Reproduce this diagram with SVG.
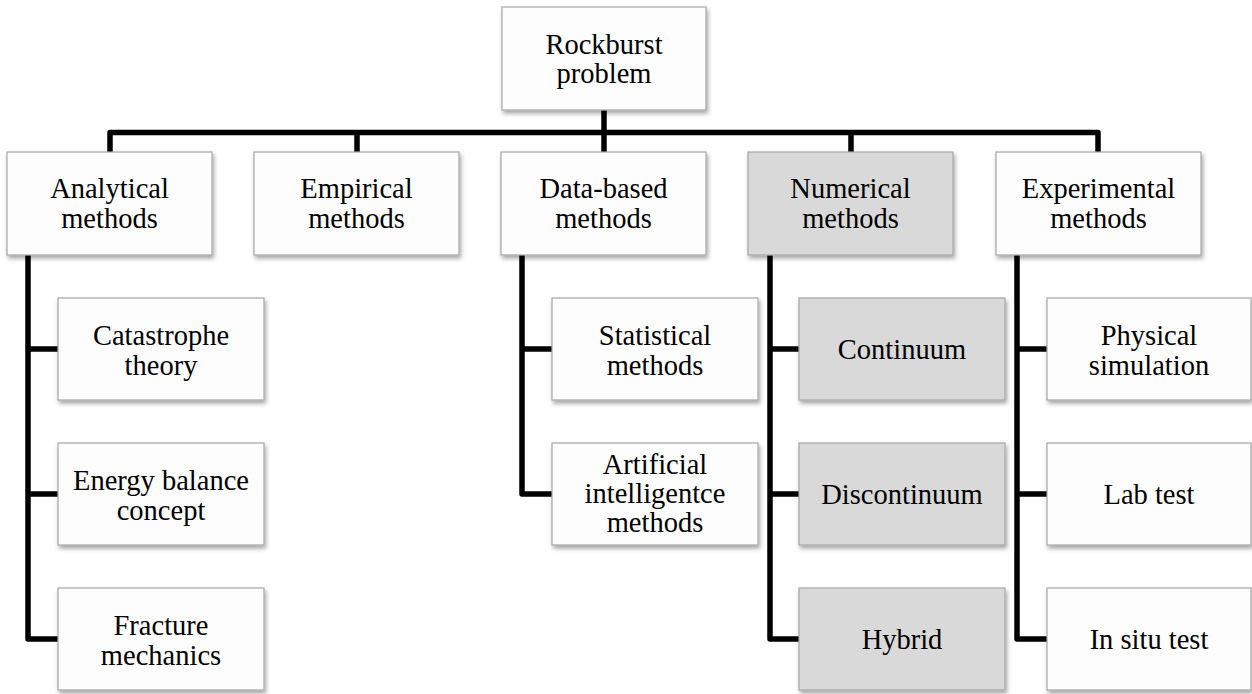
<svg xmlns="http://www.w3.org/2000/svg" width="1252" height="694" viewBox="0 0 1252 694">
<defs>
<filter id="sh" x="-10%" y="-10%" width="125%" height="130%">
<feDropShadow dx="1.5" dy="3" stdDeviation="2" flood-color="#000" flood-opacity="0.35"/>
</filter>
<style>
.box{fill:#fdfdfd;stroke:#a6a6a6;stroke-width:1.2;filter:url(#sh);}
.gray{fill:#d9d9d9;}
.t{font-size:28.5px;fill:#000;text-anchor:middle;}
.c{fill:none;stroke:#000;stroke-width:5.5;stroke-linejoin:round;}
</style>
</defs>
<rect width="1252" height="694" fill="#fff"/>
<g id="connectors">
<path class="c" d="M604,110 V132.5"/>
<path class="c" d="M110,152 V132.5 H1098 V152"/>
<path class="c" d="M357,132.5 V152"/>
<path class="c" d="M604,132.5 V152"/>
<path class="c" d="M851,132.5 V152"/>
<path class="c" d="M28,255 V639 H58"/>
<path class="c" d="M28,349 H58"/>
<path class="c" d="M28,494 H58"/>
<path class="c" d="M522,255 V494 H552"/>
<path class="c" d="M522,349 H552"/>
<path class="c" d="M770,255 V639 H799"/>
<path class="c" d="M770,349 H799"/>
<path class="c" d="M770,494 H799"/>
<path class="c" d="M1017,255 V639 H1047"/>
<path class="c" d="M1017,349 H1047"/>
<path class="c" d="M1017,494 H1047"/>
</g>
<g font-family="'Liberation Serif', 'Times New Roman', Tinos, 'DejaVu Serif', serif">
<g id="root"><rect class="box" x="502" y="7" width="204" height="103"/><text class="t" x="604" y="53.5">Rockburst</text><text class="t" x="604" y="82.5">problem</text></g>
<g id="analytical"><rect class="box" x="7" y="152" width="205" height="103"/><text class="t" x="109.5" y="198">Analytical</text><text class="t" x="109.5" y="227.5">methods</text></g>
<g id="empirical"><rect class="box" x="254" y="152" width="205" height="103"/><text class="t" x="356.5" y="198">Empirical</text><text class="t" x="356.5" y="227.5">methods</text></g>
<g id="databased"><rect class="box" x="501" y="152" width="205" height="103"/><text class="t" x="603.5" y="198">Data-based</text><text class="t" x="603.5" y="227.5">methods</text></g>
<g id="numerical"><rect class="box gray" x="748" y="152" width="205" height="103"/><text class="t" x="850.5" y="198">Numerical</text><text class="t" x="850.5" y="227.5">methods</text></g>
<g id="experimental"><rect class="box" x="996" y="152" width="205" height="103"/><text class="t" x="1098.5" y="198">Experimental</text><text class="t" x="1098.5" y="227.5">methods</text></g>
<g id="catastrophe"><rect class="box" x="58" y="298" width="206" height="102"/><text class="t" x="161" y="345">Catastrophe</text><text class="t" x="161" y="374.5">theory</text></g>
<g id="energy"><rect class="box" x="58" y="443" width="206" height="102"/><text class="t" x="161" y="490">Energy balance</text><text class="t" x="161" y="519.5">concept</text></g>
<g id="fracture"><rect class="box" x="58" y="588" width="206" height="102"/><text class="t" x="161" y="635">Fracture</text><text class="t" x="161" y="664.5">mechanics</text></g>
<g id="statistical"><rect class="box" x="552" y="298" width="206" height="102"/><text class="t" x="655" y="345">Statistical</text><text class="t" x="655" y="374.5">methods</text></g>
<g id="ai"><rect class="box" x="552" y="443" width="206" height="102"/><text class="t" x="655" y="474">Artificial</text><text class="t" x="655" y="503">intelligentce</text><text class="t" x="655" y="532">methods</text></g>
<g id="continuum"><rect class="box gray" x="799" y="298" width="206" height="102"/><text class="t" x="902" y="359">Continuum</text></g>
<g id="discontinuum"><rect class="box gray" x="799" y="443" width="206" height="102"/><text class="t" x="902" y="504">Discontinuum</text></g>
<g id="hybrid"><rect class="box gray" x="799" y="588" width="206" height="102"/><text class="t" x="902" y="649">Hybrid</text></g>
<g id="physical"><rect class="box" x="1047" y="298" width="204" height="102"/><text class="t" x="1149" y="345">Physical</text><text class="t" x="1149" y="374.5">simulation</text></g>
<g id="labtest"><rect class="box" x="1047" y="443" width="204" height="102"/><text class="t" x="1149" y="504">Lab test</text></g>
<g id="insitu"><rect class="box" x="1047" y="588" width="204" height="102"/><text class="t" x="1149" y="649">In situ test</text></g>
</g>
</svg>
